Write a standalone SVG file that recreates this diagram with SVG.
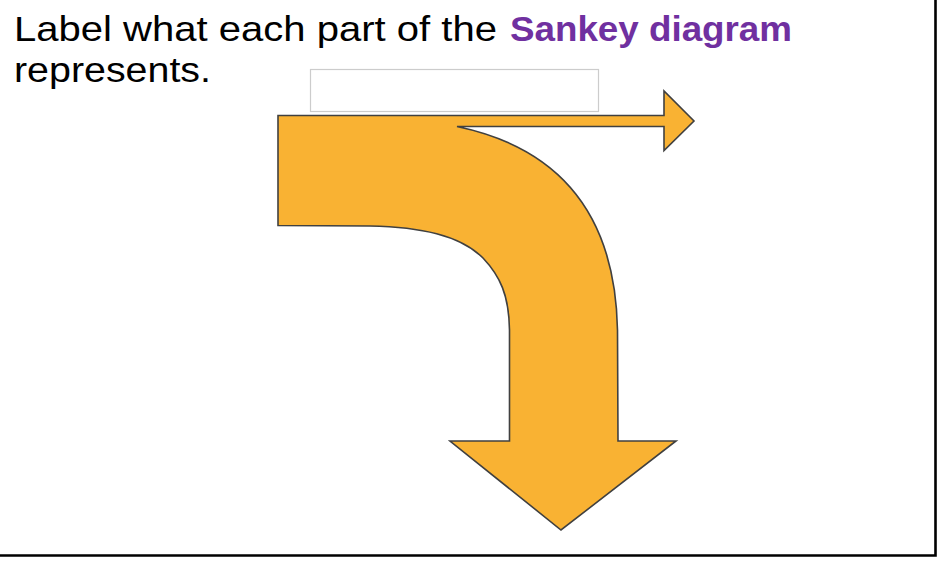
<svg xmlns="http://www.w3.org/2000/svg" width="941" height="565" viewBox="0 0 941 565">
<style>
.t{font-family:"Liberation Sans",Arial,sans-serif;font-size:35px;fill:#000}
.p{font-weight:bold;fill:#7030A0}
.flow{fill:#F9B233;stroke:#404040;stroke-width:1.6;stroke-linejoin:miter}
.box{fill:#fff;stroke:#cccccc;stroke-width:1.2}
.frame{fill:none;stroke:#000;stroke-width:2.6}
</style>
<rect width="941" height="565" fill="#fff"/>
<g id="frame">
<path class="frame" d="M0,555.5 L935.5,555.5 L935.5,0"/>
</g>
<g id="title">
<text class="t" x="14" y="41" textLength="483" lengthAdjust="spacingAndGlyphs">Label what each part of the</text>
<text class="t p" x="510" y="41" textLength="282" lengthAdjust="spacingAndGlyphs">Sankey diagram</text>
<text class="t" x="14" y="81.5" textLength="197" lengthAdjust="spacingAndGlyphs">represents.</text>
</g>
<g id="label-box">
<rect class="box" x="310.5" y="69.5" width="288" height="42"/>
</g>
<g id="sankey">
<path class="flow" d="M278,115.5 L664,115.5 L664,91 L694,121 L664,150.5 L664,126.5 L457,126.5 C545,145 615,200 617.5,330 L618,441 L676,441 L561,530 L450,441 L509.5,441 L509.5,330 C509,295 500,276 483,258 C460,235 420,227 370,226 L278,225.5 Z"/>
</g>
</svg>
